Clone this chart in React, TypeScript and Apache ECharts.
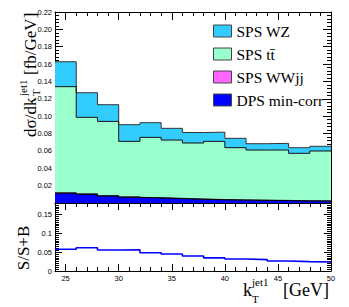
import React, { useEffect, useRef } from "react";
import * as echarts from "echarts";

// Bin edges (GeV)
const binEdges = [24, 26, 28, 30, 32, 34, 36, 38, 40, 42, 44, 46, 48, 50];
const xLabelValues = [25, 30, 35, 40, 45, 50];

// Stack components (fb/GeV)
const dpsMinCorr = [0.0112, 0.0100, 0.0080, 0.0066, 0.0058, 0.0050, 0.0043, 0.0037, 0.0033, 0.0030, 0.0027, 0.0024, 0.0022];
const spsWWjj = [0.0006, 0.0006, 0.0005, 0.0005, 0.0004, 0.0004, 0.0004, 0.0003, 0.0003, 0.0003, 0.0003, 0.0002, 0.0002];
const spsTTbar = [0.1222, 0.0881, 0.0855, 0.0639, 0.0694, 0.0671, 0.0644, 0.0670, 0.0601, 0.0577, 0.0580, 0.0546, 0.0575];
const spsWZ = [0.0287, 0.0283, 0.0192, 0.0192, 0.0169, 0.0135, 0.0121, 0.0106, 0.0108, 0.0073, 0.0077, 0.0065, 0.0054];

// S/S+B ratio
const ratio = [0.0574, 0.0617, 0.0556, 0.0558, 0.0485, 0.0450, 0.0397, 0.0347, 0.0317, 0.0300, 0.0265, 0.0247, 0.0238];

const names = ["SPS WZ", "SPS tt\u0304", "SPS WWjj", "DPS min-corr"];
const fills = ["#33ccff", "#99ffcc", "#ff66ff", "#0000ff"];

function cumulate(arrs: number[][]): number[][] {
  const out: number[][] = [];
  let acc = arrs[0].map(() => 0);
  for (const a of arrs) {
    acc = acc.map((v, i) => v + a[i]);
    out.push(acc.slice());
  }
  return out;
}

function stepData(vals: number[]) {
  return binEdges.map((e, i) => [e, vals[Math.min(i, vals.length - 1)]]);
}

const SANS = "Liberation Sans";
const SERIF = "Liberation Serif";

export default function App() {
  const ref = useRef<HTMLDivElement>(null);
  useEffect(() => {
    if (!ref.current) return;
    const chart = echarts.init(ref.current, undefined, { renderer: "svg" });
    const cum = cumulate([dpsMinCorr, spsWWjj, spsTTbar, spsWZ]);
    const layers = [
      { name: names[0], vals: cum[3], fill: fills[0], line: "#333" },
      { name: names[1], vals: cum[2], fill: fills[1], line: "#111" },
      { name: names[2], vals: cum[1], fill: fills[2], line: "#333" },
      { name: names[3], vals: cum[0], fill: fills[3], line: "#000" },
    ];
    const L = 55, R = 18;
    const grids = [
      { left: L, right: R, top: 12, height: 191 },
      { left: L, right: R, top: 203, height: 68 },
    ];
    const xBase = { type: "value", min: 24, max: 50, splitLine: { show: false } };
    const mkX = (grid: number, pos: string, major: boolean, labels: boolean, len: number) => ({
      ...xBase,
      gridIndex: grid,
      position: pos,
      interval: 1,
      axisLine: { show: !major, lineStyle: { color: "#000", width: 1 } },
      axisTick: major
        ? { show: true, inside: true, length: len, customValues: xLabelValues, lineStyle: { color: "#000" } }
        : { show: true, inside: true, length: Math.round(len / 2), lineStyle: { color: "#000" } },
      axisLabel: labels
        ? { show: true, customValues: xLabelValues, margin: 3, fontFamily: SANS, fontSize: 7.5, color: "#000" }
        : { show: false },
    });
    const mkY = (grid: number, pos: string, max: number, interval: number, minorSplit: number, len: number, fmt: ((v: number) => string) | null) => ({
      type: "value",
      gridIndex: grid,
      position: pos,
      min: 0,
      max,
      interval,
      splitLine: { show: false },
      axisLine: { show: true, lineStyle: { color: "#000", width: 1 } },
      axisTick: { show: true, inside: true, length: len, lineStyle: { color: "#000" } },
      minorTick: { show: true, splitNumber: minorSplit, length: Math.round(len / 2), lineStyle: { color: "#000" } },
      axisLabel: fmt ? { show: true, margin: 3, fontFamily: SANS, fontSize: 7.5, color: "#000", formatter: fmt } : { show: false },
    });
    const topFmt = (v: number) => (v < 1e-9 ? "" : v.toFixed(2));
    const botFmt = (v: number) => {
      const k = v / 0.05;
      if (Math.abs(k - Math.round(k)) > 1e-6) return "";
      return String(+v.toFixed(2));
    };

    const series: any[] = layers.map((ly) => ({
      type: "line",
      name: ly.name,
      xAxisIndex: 0,
      yAxisIndex: 0,
      step: "end",
      symbol: "none",
      data: stepData(ly.vals),
      lineStyle: { color: ly.line, width: 1 },
      itemStyle: { color: ly.fill },
      areaStyle: { color: ly.fill, opacity: 1 },
      z: 2,
    }));
    series.push({
      type: "line",
      name: "S/S+B",
      xAxisIndex: 4,
      yAxisIndex: 2,
      step: "end",
      symbol: "none",
      data: stepData(ratio),
      lineStyle: { color: "#0000ff", width: 1.6 },
      z: 2,
    });

    const titleFs = 17;
    const supFs = 11;
    chart.setOption({
      animation: false,
      backgroundColor: "#fff",
      grid: grids,
      xAxis: [
        mkX(0, "bottom", false, false, 8),
        mkX(0, "bottom", true, false, 8),
        mkX(0, "top", false, false, 8),
        mkX(0, "top", true, false, 8),
        mkX(1, "bottom", false, false, 7),
        mkX(1, "bottom", true, true, 7),
        mkX(1, "top", false, false, 7),
        mkX(1, "top", true, false, 7),
      ],
      yAxis: [
        mkY(0, "left", 0.22, 0.02, 5, 8, topFmt),
        mkY(0, "right", 0.22, 0.02, 5, 8, null),
        mkY(1, "left", 0.18, 0.05, 10, 7, botFmt),
        mkY(1, "right", 0.18, 0.05, 10, 7, null),
      ],
      legend: {
        left: 213,
        top: 23,
        orient: "vertical",
        itemWidth: 18,
        itemHeight: 12,
        itemGap: 7,
        padding: 0,
        selectedMode: false,
        textStyle: { fontFamily: SERIF, fontSize: 15.5, color: "#000", lineHeight: 12.5 },
        data: layers.map((ly) => ({
          name: ly.name,
          icon: "rect",
          itemStyle: { color: ly.fill, borderColor: "#444", borderWidth: 1 },
        })),
      },
      graphic: [
        {
          type: "group",
          x: 30,
          y: 137,
          rotation: Math.PI / 2,
          children: [
            { type: "text", x: 0, y: 0, style: { text: "d\u03c3/dk", fontFamily: SERIF, fontSize: titleFs, fill: "#000", align: "left", verticalAlign: "middle" } },
            { type: "text", x: 41, y: -7, style: { text: "jet1", fontFamily: SERIF, fontSize: supFs, fill: "#000", align: "left", verticalAlign: "middle" } },
            { type: "text", x: 41, y: 6, style: { text: "T", fontFamily: SERIF, fontSize: supFs, fill: "#000", align: "left", verticalAlign: "middle" } },
            { type: "text", x: 62, y: 0, style: { text: "[fb/GeV]", fontFamily: SERIF, fontSize: titleFs, fill: "#000", align: "left", verticalAlign: "middle" } },
          ],
        },
        {
          type: "text",
          x: 23,
          y: 248,
          rotation: Math.PI / 2,
          style: { text: "S/S+B", fontFamily: SERIF, fontSize: titleFs, fill: "#000", align: "center", verticalAlign: "middle" },
        },
        { type: "text", x: 243, y: 290, style: { text: "k", fontFamily: SERIF, fontSize: 18, fill: "#000", align: "left", verticalAlign: "middle" } },
        { type: "text", x: 252, y: 282, style: { text: "jet1", fontFamily: SERIF, fontSize: supFs, fill: "#000", align: "left", verticalAlign: "middle" } },
        { type: "text", x: 252, y: 299, style: { text: "T", fontFamily: SERIF, fontSize: supFs, fill: "#000", align: "left", verticalAlign: "middle" } },
        { type: "text", x: 329, y: 290, style: { text: "[GeV]", fontFamily: SERIF, fontSize: 18, fill: "#000", align: "right", verticalAlign: "middle" } },
      ],
      series,
    });
    return () => chart.dispose();
  }, []);
  return <div ref={ref} style={{ width: 349, height: 307, position: "absolute", left: 0, top: 0 }} />;
}
